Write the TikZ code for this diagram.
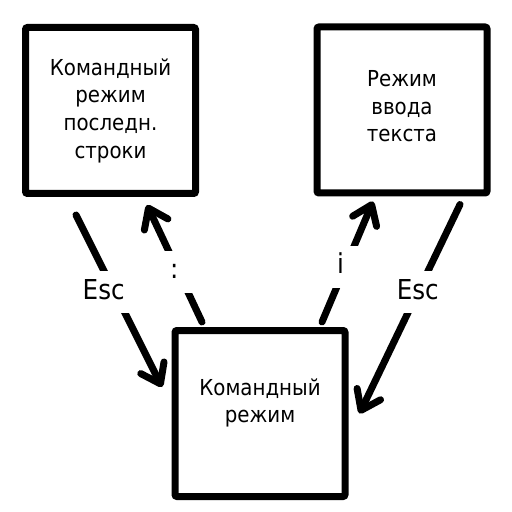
\documentclass[tikz,border=0pt]{standalone}
\usepackage{fontspec}
\setmainfont{DejaVu Sans Condensed}
\usetikzlibrary{arrows.meta,calc}

\tikzset{
  mode/.style={draw, line width=3.5pt, rounded corners=1pt, minimum width=85pt,
    minimum height=83pt, align=center, inner sep=0pt,
    font=\fontsize{11}{13.85}\selectfont},
  trans/.style={line width=3.5pt, line cap=round,
    -{Straight Barb[round, length=9pt, width=13pt]}},
  key/.style={fill=white, inner sep=2pt, minimum height=21pt, minimum width=20pt,
    text height=0.73em, text depth=0pt, font=\fontsize{13.7}{16}\selectfont},
}

\begin{document}
\begin{tikzpicture}[x=0.5pt, y=-0.5pt]
    \useasboundingbox (0,0) rectangle (512,512);

    % режимы
    \node[mode] (lastline) at (110.5,110.5) {Командный\\режим\\последн.\\строки};
    \node[mode, text depth=4pt] (insert) at (402,110) {Режим\\ввода\\текста};
    \node[mode, text depth=13pt] (command) at (260,413.5) {Командный\\режим};

    % переходы в командный режим
    \draw[trans] ($(lastline.south)+(-34.5,18)$) -- node[key, pos=0.45, xshift=-5.5pt] {Esc} ($(command.west)+(-9.5,-26.5)$);
    \draw[trans] ($(insert.south)+(58,8)$) -- node[key, pos=0.42] {Esc} ($(command.east)+(11,0)$);

    % переходы из командного режима
    \draw[trans] ($(command.north)+(-58,-5)$) -- node[key, pos=0.43, xshift=-2pt] {:} ($(lastline.south)+(36.5,8)$);
    \draw[trans] ($(command.north)+(62,-5)$) -- node[key, pos=0.46, xshift=-2.5pt] {i} ($(insert.south)+(-29,5)$);
\end{tikzpicture}
\end{document}
